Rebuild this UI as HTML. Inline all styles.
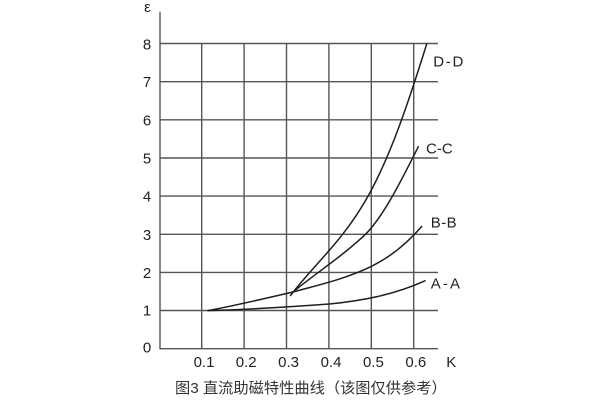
<!DOCTYPE html>
<html>
<head>
<meta charset="utf-8">
<style>
  html,body{margin:0;padding:0;background:#fff;}
  svg{display:block;}
  text{font-family:"Liberation Sans","Noto Sans CJK SC",sans-serif;fill:#222;}
</style>
</head>
<body>
<svg width="600" height="400" viewBox="0 0 600 400" xmlns="http://www.w3.org/2000/svg">
  <rect x="0" y="0" width="600" height="400" fill="#fff"/>
  <!-- grid -->
  <g stroke="#555" stroke-width="1.4" fill="none">
    <line x1="160" y1="43.5" x2="438" y2="43.5"/>
    <line x1="160" y1="81.7" x2="438" y2="81.7"/>
    <line x1="160" y1="119.8" x2="438" y2="119.8"/>
    <line x1="160" y1="158" x2="438" y2="158"/>
    <line x1="160" y1="196.1" x2="438" y2="196.1"/>
    <line x1="160" y1="234.3" x2="438" y2="234.3"/>
    <line x1="160" y1="272.4" x2="438" y2="272.4"/>
    <line x1="160" y1="310.5" x2="438" y2="310.5"/>
    <line x1="160" y1="348.7" x2="438" y2="348.7"/>
    <line x1="201.7" y1="43.5" x2="201.7" y2="348.7"/>
    <line x1="244.1" y1="43.5" x2="244.1" y2="348.7"/>
    <line x1="286.5" y1="43.5" x2="286.5" y2="348.7"/>
    <line x1="328.9" y1="43.5" x2="328.9" y2="348.7"/>
    <line x1="371.3" y1="43.5" x2="371.3" y2="348.7"/>
    <line x1="413.7" y1="43.5" x2="413.7" y2="348.7"/>
    <line x1="160" y1="11.7" x2="160" y2="349.4"/>
  </g>
  <!-- curves -->
  <g stroke="#1e1e1e" stroke-width="1.5" fill="none" stroke-linejoin="round" stroke-linecap="round">
    <!-- shared lower segment -->
    <path d="M208,310.6 C236,305.4 265,298.5 293,292"/>
    <!-- A-A -->
    <path d="M208,310.6 C248.4,309.4 288.9,307 329.3,304 C361.2,300.8 393.1,295.2 425,280.8"/>
    <!-- B-B -->
    <path d="M293,292 C319.2,284.7 345.3,279.1 371.5,266.3 C388.2,258.1 405,245.7 421.7,226.5"/>
    <!-- C-C -->
    <path d="M293,292 C317.2,272.2 341.3,257 365.5,234.3 C383.1,216.7 400.7,181.9 418.3,146.7"/>
    <!-- D-D -->
    <path d="M290.5,295.5 C316.5,261.7 342.3,242 368.3,195.7 C390.3,156 407.2,106.4 426.7,44"/>
  </g>
  <!-- y labels -->
  <g font-size="15" text-anchor="middle">
    <text x="147.5" y="12" font-size="15">ε</text>
    <text x="147" y="49.5">8</text>
    <text x="147" y="87.2">7</text>
    <text x="147" y="125.3">6</text>
    <text x="147" y="163.5">5</text>
    <text x="147" y="201.6">4</text>
    <text x="147" y="239.8">3</text>
    <text x="147" y="277.9">2</text>
    <text x="147" y="315.5">1</text>
    <text x="147" y="352.5">0</text>
  </g>
  <!-- x labels -->
  <g font-size="15" text-anchor="middle">
    <text x="204" y="367">0.1</text>
    <text x="246.2" y="367">0.2</text>
    <text x="288.6" y="367">0.3</text>
    <text x="331" y="367">0.4</text>
    <text x="373.4" y="367">0.5</text>
    <text x="415.8" y="367">0.6</text>
    <text x="451.3" y="367">K</text>
  </g>
  <!-- series labels -->
  <g font-size="15">
    <text x="433.3" y="66.7" textLength="30" lengthAdjust="spacing">D-D</text>
    <text x="426" y="153.3" textLength="26.7" lengthAdjust="spacing">C-C</text>
    <text x="430.7" y="227.3" textLength="26" lengthAdjust="spacing">B-B</text>
    <text x="430.7" y="288.3" textLength="29.3" lengthAdjust="spacing">A-A</text>
  </g>
  <!-- caption -->
  <text x="175" y="393" font-size="15" style="fill:#333" textLength="271.7" lengthAdjust="spacingAndGlyphs">图3 直流助磁特性曲线（该图仅供参考）</text>
</svg>
</body>
</html>
